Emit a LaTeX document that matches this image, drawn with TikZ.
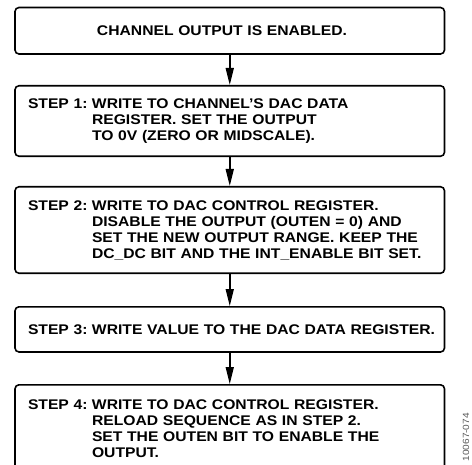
\documentclass[tikz,border=0pt]{standalone}
\usepackage{fontspec}
\newfontfamily\boxfont{Liberation Sans}[FakeStretch=1.12]
\usetikzlibrary{arrows.meta}

\newcommand{\steplbl}[1]{\makebox[64pt][l]{#1}}
\newcommand{\indentcol}{\hspace*{64pt}}

\tikzset{
  stepbox/.style={draw, line width=1.6pt, rounded corners=4pt, text width=403.5pt,
    inner xsep=13pt, align=left, font=\boxfont\bfseries\fontsize{14}{16}\selectfont},
  flow/.style={line width=1.6pt, -{Triangle[length=17pt,width=8pt]}},
}

\begin{document}
\begin{tikzpicture}[x=1pt, y=-1pt]
  \useasboundingbox (0,0) rectangle (472,464);
  \clip (0,0) rectangle (472,464);

  % flow boxes
  \node[stepbox, minimum height=46.5pt] (enabled) at (229.75,30.75)
    {\hspace*{69pt}CHANNEL OUTPUT IS ENABLED.};
  \node[stepbox, minimum height=70.5pt] (step1) at (229.75,121)
    {\steplbl{STEP 1:}WRITE TO CHANNEL’S DAC DATA\\
     \indentcol REGISTER. SET THE OUTPUT\\
     \indentcol TO 0V (ZERO OR MIDSCALE).};
  \node[stepbox, minimum height=86.5pt] (step2) at (229.75,230)
    {\steplbl{STEP 2:}WRITE TO DAC CONTROL REGISTER.\\
     \indentcol DISABLE THE OUTPUT (OUTEN = 0) AND\\
     \indentcol SET THE NEW OUTPUT RANGE. KEEP THE\\
     \indentcol DC\_DC BIT AND THE INT\_ENABLE BIT SET.};
  \node[stepbox, minimum height=45.2pt] (step3) at (229.75,329.4)
    {\mbox{\steplbl{STEP 3:}WRITE VALUE TO THE DAC DATA REGISTER.}};
  \node[stepbox, minimum height=88pt] (step4) at (229.75,428.8)
    {\steplbl{STEP 4:}WRITE TO DAC CONTROL REGISTER.\\
     \indentcol RELOAD SEQUENCE AS IN STEP 2.\\
     \indentcol SET THE OUTEN BIT TO ENABLE THE\\
     \indentcol OUTPUT.};

  % arrows
  \draw[flow] (enabled) -- (step1);
  \draw[flow] (step1) -- (step2);
  \draw[flow] (step2) -- (step3);
  \draw[flow] (step3) -- (step4);

  % figure number
  \node[rotate=90, anchor=east, inner sep=0pt, text=black!65,
    font=\boxfont\fontsize{9}{9}\selectfont] (figid) at (466,413) {10067-074};
\end{tikzpicture}
\end{document}
